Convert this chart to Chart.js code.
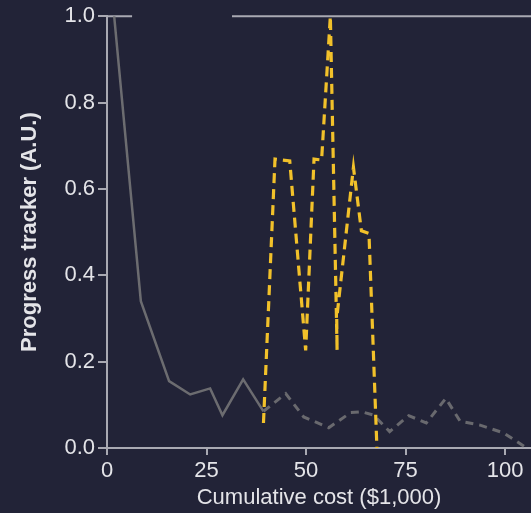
<!DOCTYPE html>
<html>
<head>
<meta charset="utf-8">
<script src="https://cdn.jsdelivr.net/npm/chart.js@4.4.1/dist/chart.umd.min.js"></script>
<style>
    html, body { margin: 0; padding: 0; background: #222337; }
    #wrap { width: 531px; height: 513px; }
</style>
</head>
<body>
<div id="wrap"><canvas id="progressChart"></canvas></div>
<script>
// Progress tracker vs cumulative cost
// ===================================

// solid grey part of the tracker
const solidX = [1.8, 8.5, 15.6, 20.9, 25.9, 29.0, 34.2, 39.3];
const solidY = [1.0, 0.34, 0.155, 0.124, 0.138, 0.076, 0.159, 0.085];

// dashed grey continuation
const greyDashX = [39.3, 44.9, 49.4, 55.7, 61.2, 64.0, 67.0, 71.0, 75.8, 80.2, 85.1, 88.7, 93.7, 99.6, 105.4];
const greyDashY = [0.085, 0.126, 0.072, 0.047, 0.082, 0.084, 0.076, 0.038, 0.075, 0.058, 0.115, 0.062, 0.053, 0.035, 0.0];

// yellow dashed series
const yellowX = [39.3, 42.2, 45.9, 49.9, 52.0, 53.9, 56.1, 57.8, 57.7, 61.9, 63.9, 65.8, 67.8];
const yellowY = [0.058, 0.669, 0.665, 0.226, 0.669, 0.667, 1.0, 0.226, 0.3, 0.65, 0.503, 0.497, 0.0];

// light rule along the top (with a gap)
const topRuleX = [0, 6.3, null, 31.4, 106.5];

// axes
const xTickValues = [0, 25, 50, 75, 100];
const yTickValues = [0, 0.2, 0.4, 0.6, 0.8, 1.0];
const xRange = [0, 106.5];
const yRange = [0, 1];

const xTitle = 'Cumulative cost ($1,000)';
const yTitle = 'Progress tracker (A.U.)';

const toPoints = (xs, ys) => xs.map((x, i) => x === null ? { x: null, y: null } : { x: x, y: ys[i] });

const axisColor = '#a9a9b2';
const labelColor = '#e4e4e8';

const bgPlugin = {
    id: 'bg',
    beforeDraw(chart) {
        const c = chart.ctx;
        c.save();
        c.fillStyle = '#222337';
        c.fillRect(0, 0, chart.width, chart.height);
        c.restore();
    }
};

const ctx = document.getElementById('progressChart');
const chart = new Chart(ctx, {
    type: 'line',
    data: {
        datasets: [
            {
                label: 'top rule',
                data: toPoints(topRuleX, topRuleX.map(() => 1)),
                borderColor: axisColor,
                borderWidth: 2,
                pointRadius: 0,
                spanGaps: false,
                clip: false,
                order: 4
            },
            {
                label: 'grey solid',
                data: toPoints(solidX, solidY),
                borderColor: '#6c6c70',
                borderWidth: 2.5,
                pointRadius: 0,
                order: 3
            },
            {
                label: 'grey dashed',
                data: toPoints(greyDashX, greyDashY),
                borderColor: '#69696e',
                borderWidth: 3,
                borderDash: [8, 6],
                pointRadius: 0,
                order: 2
            },
            {
                label: 'yellow',
                data: toPoints(yellowX, yellowY),
                borderColor: '#f2c12a',
                borderWidth: 3.2,
                borderDash: [10, 6],
                pointRadius: 0,
                clip: 2,
                order: 1
            }
        ]
    },
    options: {
        responsive: true,
        maintainAspectRatio: false,
        animation: false,
        layout: { padding: { top: 15, right: 0, left: 0, bottom: 0 } },
        plugins: {
            legend: { display: false },
            tooltip: { enabled: false }
        },
        scales: {
            x: {
                type: 'linear',
                min: xRange[0],
                max: xRange[1],
                afterBuildTicks: axis => {
                    axis.ticks = xTickValues.map(v => ({ value: v }));
                },
                afterFit: scale => { scale.height = 65; },
                border: { display: true, color: axisColor, width: 2 },
                grid: {
                    drawOnChartArea: false,
                    drawTicks: true,
                    tickLength: 7,
                    color: axisColor,
                    lineWidth: 2
                },
                ticks: {
                    color: labelColor,
                    font: { family: 'Liberation Sans, Arial, sans-serif', size: 22 },
                    padding: 3,
                    maxRotation: 0,
                    callback: v => String(v)
                },
                title: {
                    display: true,
                    text: xTitle,
                    color: labelColor,
                    font: { family: 'Liberation Sans, Arial, sans-serif', size: 22 },
                    padding: { top: 0, bottom: 2 }
                }
            },
            y: {
                type: 'linear',
                min: yRange[0],
                max: yRange[1],
                afterBuildTicks: axis => {
                    axis.ticks = yTickValues.map(v => ({ value: v }));
                },
                afterFit: scale => { scale.width = 107; },
                border: { display: true, color: axisColor, width: 2 },
                grid: {
                    drawOnChartArea: false,
                    drawTicks: true,
                    tickLength: 9,
                    color: axisColor,
                    lineWidth: 2
                },
                ticks: {
                    color: labelColor,
                    font: { family: 'Liberation Sans, Arial, sans-serif', size: 22 },
                    padding: 3,
                    callback: v => Number(v).toFixed(1)
                },
                title: {
                    display: true,
                    text: yTitle,
                    color: labelColor,
                    font: { family: 'Liberation Sans, Arial, sans-serif', size: 22, weight: 'bold' },
                    padding: { top: 17, bottom: 0 }
                }
            }
        }
    },
    plugins: [bgPlugin]
});
</script>
</body>
</html>
